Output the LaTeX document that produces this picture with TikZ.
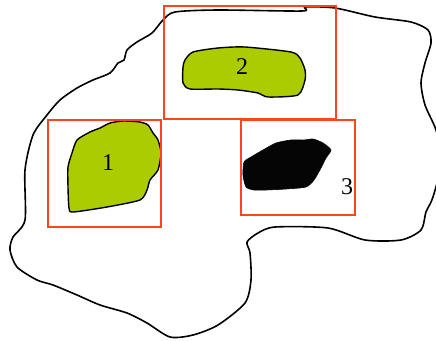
\documentclass[tikz,border=0pt]{standalone}
\usepackage{fontspec}
\setmainfont{Liberation Serif}
\usepackage{xcolor}
\usepackage{tikz}
\definecolor{outline}{HTML}{000000}
\definecolor{frame}{HTML}{FF4422}
\definecolor{patch}{HTML}{AACC00}
\definecolor{dark}{HTML}{050505}
\begin{document}
\begin{tikzpicture}[x=1pt, y=-1pt,
    region/.style={draw=outline, line width=1.6pt, line join=round},
    greenpatch/.style={region, fill=patch, line width=1.4pt},
    darkpatch/.style={fill=dark, draw=dark, line width=0.6pt},
    window/.style={draw=frame, line width=1.3pt},
    tag/.style={font=\fontsize{24}{24}\selectfont, inner sep=0pt}]
  \useasboundingbox (0,0) rectangle (436,340);
  \clip (0,0) rectangle (436,340);
  % outer boundary
  \draw[region] plot[smooth cycle, tension=0.45] coordinates {
    (175,12) (218,10) (302,11) (305,7) (335,8) (375,17) (411,22) (428,30)
    (431,43) (425,63) (421,83) (425,105) (436,130) (442,160) (433,197)
    (426,212) (421,230) (401,240) (365,240) (328,228) (275,227) (258,233)
    (247,242) (250,253) (251,280) (245,303) (218,325) (193,335) (170,337)
    (147,323) (127,313) (100,305) (77,295) (53,285) (37,280) (17,267)
    (10,250) (13,237) (25,220) (25,170) (33,135) (47,115) (60,100) (77,88)
    (93,80) (110,73) (118,63) (124,60) (127,50) (137,42) (152,33) (163,20)};
  % patches
  \draw[greenpatch] plot[smooth cycle, tension=0.4] coordinates {
    (110,123) (123,121) (140,122) (148,125) (153,133) (158,140) (161,153)
    (158,170) (150,180) (147,190) (140,200) (107,207) (73,212) (69,208)
    (68,187) (68,167) (72,153) (77,140) (90,132) (100,128)};
  \draw[greenpatch] plot[smooth cycle, tension=0.4] coordinates {
    (193,52) (218,48) (245,47) (291,52) (300,58) (305,70) (305,80) (298,95)
    (268,97) (258,93) (238,90) (218,89) (190,89) (183,83) (183,67) (185,60)};
  \fill[darkpatch] plot[smooth cycle, tension=0.4] coordinates {
    (244,162) (251,157) (263,150) (276,143) (291,140) (304,140) (313,139)
    (323,143) (331,150) (326,158) (321,168) (314,180) (306,187) (286,189)
    (266,190) (254,190) (246,187) (243,175)};
  % windows
  \draw[window] (48,120) rectangle (161,227);
  \draw[window] (164,6) rectangle (336,119);
  \draw[window] (241,120) rectangle (355,215);
  % labels
  \node[tag] (one) at (108,163) {1};
  \node[tag] (two) at (242,67) {2};
  \node[tag] (three) at (347,187) {3};
\end{tikzpicture}
\end{document}
